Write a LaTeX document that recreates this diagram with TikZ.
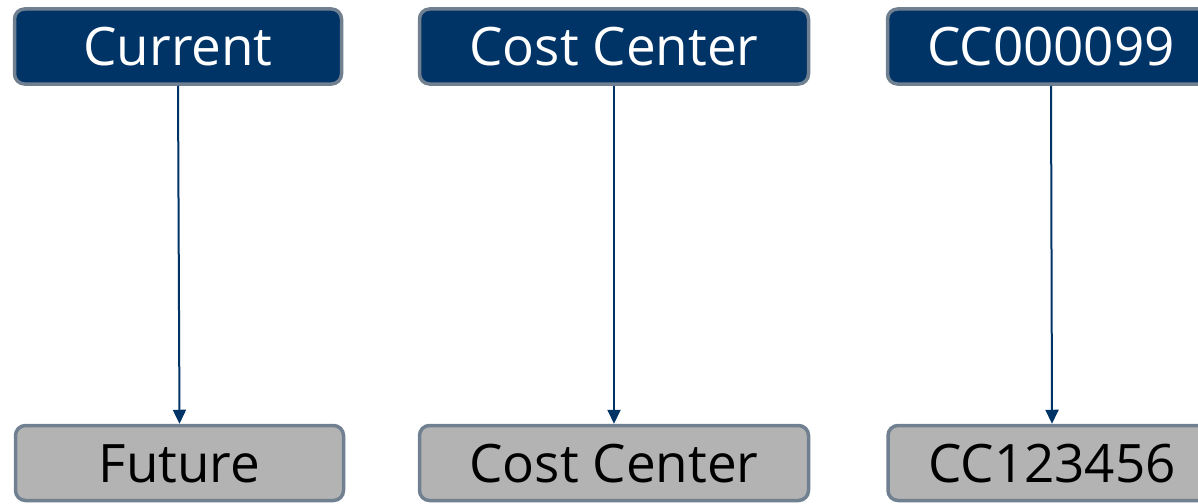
\documentclass[tikz,border=0pt]{standalone}
\usepackage{fontspec}
\setmainfont{Open Sans}
\usetikzlibrary{arrows.meta}
\definecolor{navy}{HTML}{003366}
\definecolor{slate}{HTML}{708090}
\definecolor{lightgrey}{HTML}{B3B3B3}
\begin{document}
\begin{tikzpicture}[x=1pt,y=-1pt,
  box/.style={draw=slate, line width=3.5pt, rounded corners=10pt,
    minimum height=75pt, inner sep=0pt, font=\fontsize{53}{60}\selectfont,
    text height=38pt, text depth=0pt},
  cur/.style={box, fill=navy, text=white},
  fut/.style={box, fill=lightgrey, text=black},
  link/.style={draw=navy, line width=2pt, -{Triangle[width=13pt,length=14pt]}}]
  \useasboundingbox (0,0) rectangle (1198,503);
  \clip (0,0) rectangle (1198,503);
  % current values (top row)
  \node[cur, minimum width=327pt] (c1) at (178,46.5) {Current};
  \node[cur, minimum width=389pt] (c2) at (614,46.5) {Cost Center};
  \node[cur, minimum width=327pt] (c3) at (1051,46.5) {CC000099};
  % future values (bottom row)
  \node[fut, minimum width=328pt] (f1) at (179.5,463) {Future};
  \node[fut, minimum width=389pt] (f2) at (614,463) {Cost Center};
  \node[fut, minimum width=328pt] (f3) at (1052,463) {CC123456};
  % mappings
  \draw[link] (c1.south) -- (f1.north);
  \draw[link] (c2.south) -- (f2.north);
  \draw[link] (c3.south) -- (f3.north);
\end{tikzpicture}
\end{document}
